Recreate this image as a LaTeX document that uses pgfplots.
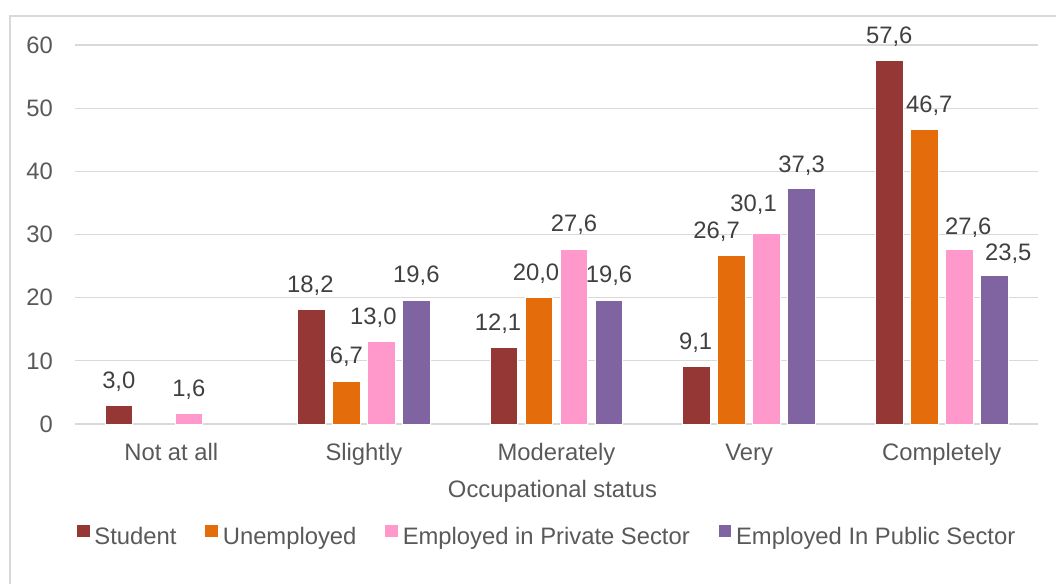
\documentclass[border=0pt]{standalone}
\usepackage{pgfplots}
\pgfplotsset{compat=1.18}
\usepackage{pgfplotstable}
\usepackage{fontspec}
\setmainfont{Liberation Sans}
\definecolor{cStu}{HTML}{953735}
\definecolor{cUne}{HTML}{E46C0A}
\definecolor{cPri}{HTML}{FF99CC}
\definecolor{cPub}{HTML}{8064A2}
\definecolor{gridc}{HTML}{D9D9D9}
\definecolor{txt}{HTML}{595959}
\definecolor{lbl}{HTML}{404040}
\newcommand{\chartfont}{\fontsize{23.8}{28}\selectfont}

\pgfplotstableread{
x y dx dy
0 3.0 0 17
1 18.2 -1 17
2 12.1 -6 17
3 9.1 -1 17
4 57.6 0 17
}\student
\pgfplotstableread{
x y dx dy
1 6.7 0 18
2 20.0 -3 17
3 26.7 -15 17
4 46.7 5 17
}\unemployed
\pgfplotstableread{
x y dx dy
0 1.6 0 17
1 13.0 -8 17
2 27.6 0 18
3 30.1 -13 22
4 27.6 9 15
}\private
\pgfplotstableread{
x y dx dy
1 19.6 0 18
2 19.6 0 18
3 37.3 0 16
4 23.5 14 15
}\public

\begin{document}
\begin{tikzpicture}
\useasboundingbox (-75pt,-159pt) rectangle (981pt,424pt);
\draw[gridc, line width=1.5pt] (-65pt,-170pt) -- (-65pt,408pt) -- (1000pt,408pt);
\begin{axis}[
  at={(0pt,0pt)}, anchor=south west,
  scale only axis, width=963pt, height=379pt,
  ybar=7.5pt, bar width=27.5pt,
  xmin=-0.5, xmax=4.5, ymin=0, ymax=60,
  xtick={0,...,4}, xticklabels={Not at all,Slightly,Moderately,Very,Completely},
  ytick={0,10,...,60},
  yticklabel={\chartfont\pgfmathprintnumber[assume math mode=true]{\tick}},
  major tick length=0pt,
  axis line style={draw=none},
  ymajorgrids, grid style={gridc, line width=1.2pt},
  /pgf/number format/assume math mode=true,
  tick label style={font=\chartfont, text=txt, inner sep=0pt},
  xticklabel style={anchor=base, yshift=-36pt},
  yticklabel style={anchor=east, xshift=-22pt},
  xlabel={Occupational status},
  xlabel style={at={(axis description cs:0.5,0)}, anchor=base, yshift=-73pt, xshift=-4pt, font=\chartfont, text=txt, inner sep=0pt},
  clip=false,
  nodes near coords={\pgfmathprintnumber[fixed,fixed zerofill,precision=1,use comma]{\pgfplotspointmeta}},
  visualization depends on={\thisrow{dx}\as\dx},
  visualization depends on={\thisrow{dy}\as\dy},
  every node near coord/.append style={font=\chartfont, text=lbl, anchor=base, inner sep=0pt, xshift=\dx pt, yshift=\dy pt},
  legend columns=4,
  legend image code/.code={\path[#1,draw=none] (0pt,-0.5pt) rectangle (12.5pt,12pt);},
  legend style={at={(axis description cs:0,0)}, anchor=north west, xshift=2pt, yshift=-100.5pt, draw=none, fill=none, inner sep=0pt, outer sep=0pt, font=\chartfont, text=txt, nodes={inner sep=0pt}, /tikz/every odd column/.append style={column sep=5pt}, /tikz/every even column/.append style={column sep=28.8pt}},
]
\addplot[fill=cStu, draw=white, line width=0.8pt] table[x=x,y=y] {\student};
\addplot[fill=cUne, draw=white, line width=0.8pt] table[x=x,y=y] {\unemployed};
\addplot[fill=cPri, draw=white, line width=0.8pt] table[x=x,y=y] {\private};
\addplot[fill=cPub, draw=white, line width=0.8pt] table[x=x,y=y] {\public};
\legend{Student, Unemployed, Employed in Private Sector, Employed In Public Sector}
\end{axis}
\end{tikzpicture}
\end{document}
